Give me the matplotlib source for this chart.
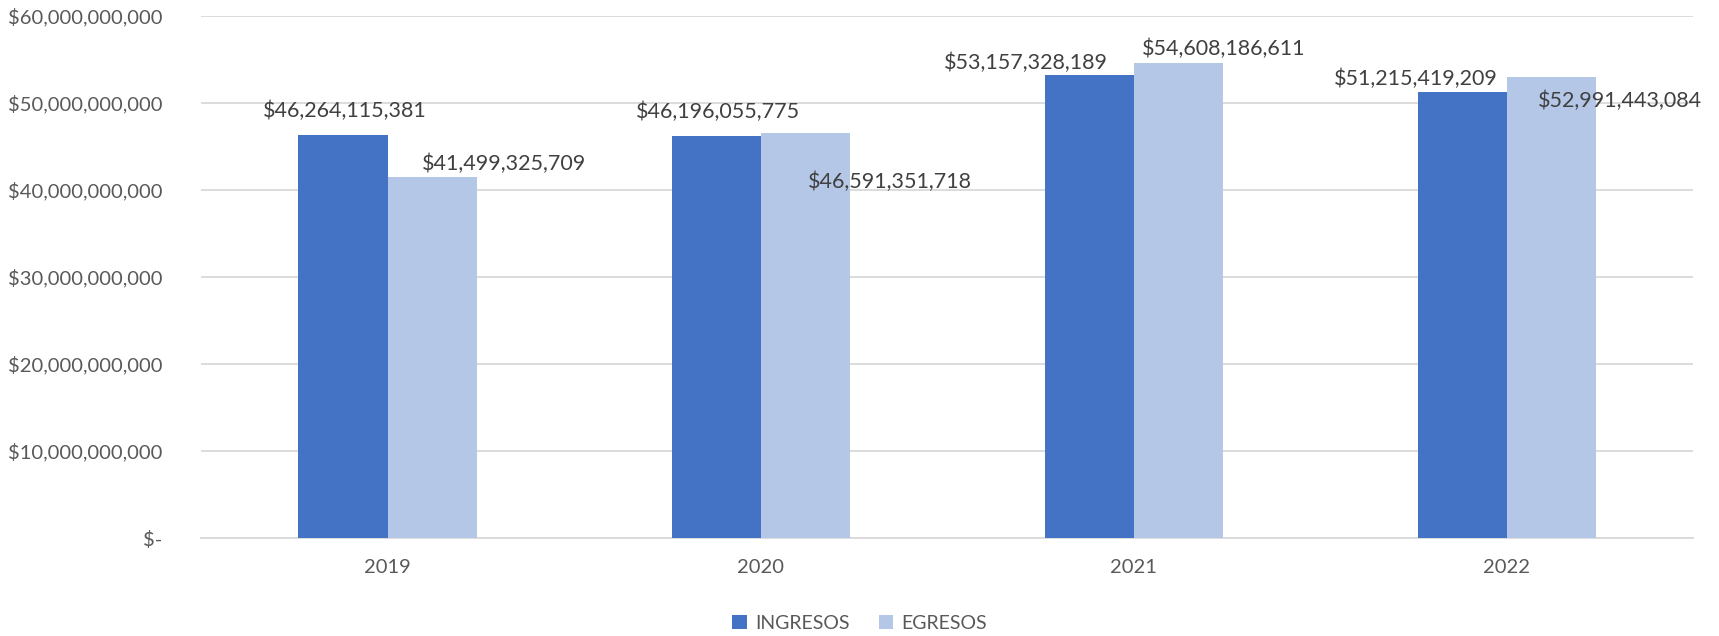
import numpy as np
import matplotlib
matplotlib.use("Agg")
import matplotlib.pyplot as plt
from matplotlib.ticker import FuncFormatter

plt.rcParams['font.family'] = ['Lato', 'DejaVu Sans']

years = ['2019', '2020', '2021', '2022']
ingresos = [46264115381, 46196055775, 53157328189, 51215419209]
egresos = [41499325709, 46591351718, 54608186611, 52991443084]

# label offsets in pixels (dx, dy) from the bar top centre, as placed in the original
ing_off = [(2, 25), (2, 24), (-63, 13), (-46, 13)]
egr_off = [(72, 13), (85, -49), (45, 14), (69, -24)]

c_ing = '#4472C4'
c_egr = '#B4C7E7'
txt = '#595959'

fig = plt.figure(figsize=(17.19, 6.36), dpi=100)
ax = fig.add_axes([0.117, 0.154, 0.868, 0.821])

x = np.arange(len(years))
w = 0.239
b1 = ax.bar(x - w / 2, ingresos, w, color=c_ing, label='INGRESOS', zorder=3)
b2 = ax.bar(x + w / 2, egresos, w, color=c_egr, label='EGRESOS', zorder=3)

for bars, vals, offs in [(b1, ingresos, ing_off), (b2, egresos, egr_off)]:
    for bar, v, (dx, dy) in zip(bars, vals, offs):
        ax.annotate('${:,}'.format(v), (bar.get_x() + bar.get_width() / 2, v),
                    xytext=(dx, dy), textcoords='offset pixels',
                    ha='center', va='center', fontsize=15.5, color='#404040', zorder=4)

ax.set_xlim(-0.5, 3.5)
ax.set_ylim(0, 60e9)
ax.set_yticks(np.arange(0, 60e9 + 1, 10e9))
ax.yaxis.set_major_formatter(FuncFormatter(lambda v, p: '$-' if v == 0 else '${:,.0f}'.format(v)))
ax.set_xticks(x)
ax.set_xticklabels(years)
ax.grid(axis='y', color='#D9D9D9', linewidth=1.3, zorder=0)
for s in ['top', 'right', 'left']:
    ax.spines[s].set_visible(False)
ax.spines['bottom'].set_color('#D9D9D9')
ax.spines['bottom'].set_linewidth(1.3)
ax.tick_params(axis='both', length=0, labelsize=14.5, labelcolor=txt)
ax.tick_params(axis='y', pad=28)
ax.tick_params(axis='x', pad=15)

fig.legend(loc='center', bbox_to_anchor=(0.5, 0.02), ncol=2, frameon=False,
           fontsize=14, labelcolor=txt, handlelength=0.75, handleheight=0.75,
           columnspacing=1.5, handletextpad=0.4)

fig.savefig('out.png', dpi=100)
